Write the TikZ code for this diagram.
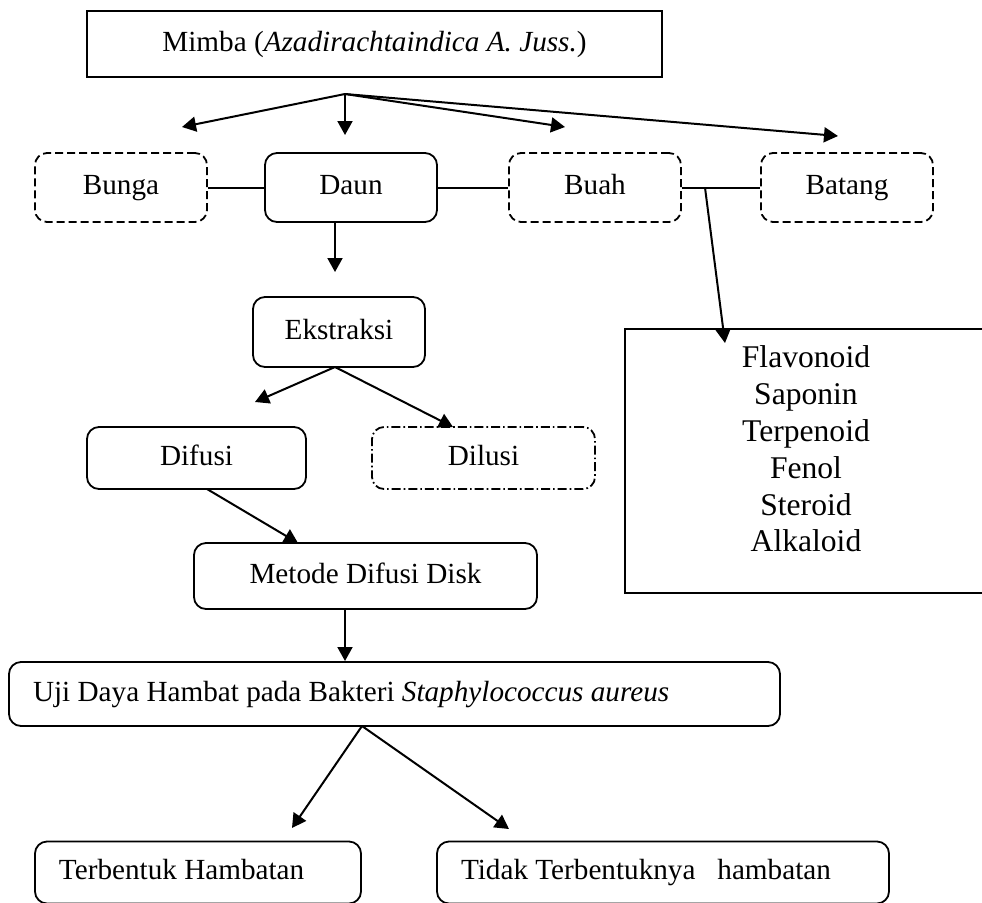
\documentclass[tikz,border=0pt]{standalone}
\usepackage{fontspec}
\setmainfont{Liberation Serif}
\usetikzlibrary{arrows.meta,positioning}
\begin{document}
\begin{tikzpicture}[x=0.5pt,y=-0.5pt,font=\fontsize{14.6pt}{17pt}\selectfont,>={Triangle[length=7pt,width=7.5pt]},
  box/.style={draw,line width=0.9pt,rounded corners=6pt,align=center,inner sep=0pt,text height=10pt,text depth=3pt,minimum width=86pt,minimum height=34.5pt},
  opsi/.style={box,dash pattern=on 4pt off 2pt},
  alt/.style={box,dash pattern=on 4.5pt off 1.5pt on 0.8pt off 1.5pt},
  kiri/.style={box,align=flush left,inner xsep=12pt,minimum height=31pt},
  arr/.style={->,line width=1pt}]
\useasboundingbox (0,0) rectangle (982,902);
\clip (0,0) rectangle (982,902);
\node[draw,line width=1.3pt,inner sep=0pt,text height=10pt,text depth=3pt,minimum width=287.5pt,minimum height=33pt] (mimba) at (374.5,44) {Mimba (\textit{Azadirachtaindica A. Juss.})};
\node[opsi] (bunga) at (121,187.5) {Bunga};
\node[box] (daun) at (351,187.5) {Daun};
\node[opsi] (buah) at (595,187.5) {Buah};
\node[opsi] (batang) at (847,187.5) {Batang};
\node[box,minimum height=35pt] (ekstraksi) at (339,332) {Ekstraksi};
\node[box,minimum width=109.5pt,minimum height=31pt] (difusi) at (196.5,458) {Difusi};
\node[alt,minimum width=111.5pt,minimum height=31pt] (dilusi) at (483.5,458) {Dilusi};
\node[box,minimum width=171.5pt,minimum height=33pt] (metode) at (365.5,576) {Metode Difusi Disk};
\node[kiri,text width=361.5pt,minimum height=32pt] (uji) at (394.5,694) {Uji Daya Hambat pada Bakteri \textit{Staphylococcus aureus}};
\node[kiri,text width=139pt] (ada) at (198,872.5) {Terbentuk Hambatan};
\node[kiri,text width=202pt] (tidak) at (663,872.5) {Tidak Terbentuknya\ \ \ hambatan};
\node[align=center,inner sep=0pt,font=\fontsize{15.8pt}{18.4pt}\selectfont] (zat) at (806,449) {Flavonoid\\Saponin\\Terpenoid\\Fenol\\Steroid\\Alkaloid};
\draw[line width=1.3pt] (995,329) -| (625,593) -- (995,593);
% titik ujung panah
\coordinate (pusat) at (345,94);
\coordinate (kebunga) at (182,127); \coordinate (kedaun) at (345,135);
\coordinate (kebuah) at (565,127); \coordinate (kebatang) at (838,136);
\coordinate (daunbawah) at (335,222); \coordinate (keekstraksi) at (335,272);
\coordinate (ekspusat) at (335,367); \coordinate (kedifusi) at (255,402); \coordinate (kedilusi) at (453,427);
\coordinate (difbawah) at (207,489); \coordinate (kemetode) at (298,543);
\coordinate (metbawah) at (345,609); \coordinate (keuji) at (345,661);
\coordinate (ujipusat) at (362,726); \coordinate (keada) at (292,828); \coordinate (ketidak) at (509,829);
\coordinate (cabang) at (705,187.5); \coordinate (kezat) at (725,343);
\draw[line width=1pt] (bunga) -- (daun); \draw[line width=1pt] (daun) -- (buah); \draw[line width=1pt] (buah) -- (batang);
\draw[arr] (pusat) -- (kebunga); \draw[arr] (pusat) -- (kedaun); \draw[arr] (pusat) -- (kebuah); \draw[arr] (pusat) -- (kebatang);
\draw[arr] (daunbawah) -- (keekstraksi);
\draw[arr] (ekspusat) -- (kedifusi); \draw[arr] (ekspusat) -- (kedilusi);
\draw[arr] (difbawah) -- (kemetode);
\draw[arr] (metbawah) -- (keuji);
\draw[arr] (ujipusat) -- (keada); \draw[arr] (ujipusat) -- (ketidak);
\draw[arr] (cabang) -- (kezat);
\end{tikzpicture}
\end{document}
